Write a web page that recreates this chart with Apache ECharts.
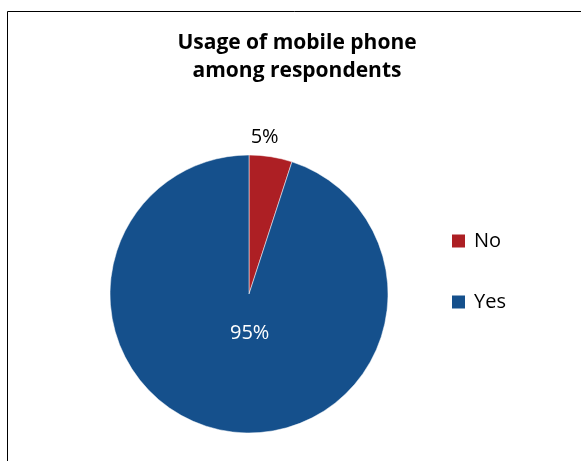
<!DOCTYPE html>
<html>
<head>
<meta charset="utf-8">
<script src="https://cdn.jsdelivr.net/npm/echarts@6/dist/echarts.min.js"></script>
<style>
  html, body { margin: 0; padding: 0; background: #fff; }
  #chart { width: 581px; height: 461px; }
</style>
</head>
<body>
<div id="chart"></div>
<script>
// Mobile phone usage share (percent)
const categories = ['No', 'Yes'];
const shares = [5, 95];
const colors = ['#AD1F24', '#15508C'];
const titleText = 'Usage of mobile phone\namong respondents';

const chart = echarts.init(document.getElementById('chart'), null, { renderer: 'canvas' });

const font = '"Open Sans", Lato, "Noto Sans", sans-serif';

chart.setOption({
  animation: false,
  backgroundColor: '#fff',
  title: {
    text: titleText,
    left: 292,
    textAlign: 'center',
    top: 24,
    textStyle: {
      fontFamily: font,
      fontWeight: 'bold',
      fontSize: 21,
      lineHeight: 28,
      color: '#000'
    }
  },
  legend: {
    orient: 'vertical',
    left: 445,
    top: 226,
    itemWidth: 15,
    itemHeight: 15,
    itemGap: 41,
    icon: 'rect',
    data: categories,
    textStyle: {
      fontFamily: font,
      fontSize: 20,
      color: '#000',
      padding: [0, 0, 0, 3]
    }
  },
  graphic: [
    { type: 'line', shape: { x1: 7.5, y1: 11.5, x2: 581, y2: 11.5 }, style: { stroke: '#000', lineWidth: 1 } },
    { type: 'line', shape: { x1: 7.5, y1: 11.5, x2: 7.5, y2: 461 }, style: { stroke: '#000', lineWidth: 1 } }
  ],
  series: [{
    type: 'pie',
    center: [249, 294],
    radius: [0, 139],
    startAngle: 90,
    clockwise: true,
    silent: true,
    itemStyle: { borderColor: '#fff', borderWidth: 0.5 },
    labelLine: { show: false, length: 6, length2: 0 },
    label: {
      fontFamily: font,
      fontSize: 20,
      formatter: '{d}%'
    },
    labelLayout: function (params) {
      if (params.dataIndex === 1) {
        return { dx: 12, dy: -32 };
      }
      return { dx: -26, dy: -13 };
    },
    data: categories.map((name, i) => ({
      name: name,
      value: shares[i],
      itemStyle: { color: colors[i] },
      label: i === 0
        ? { position: 'outside', color: '#000' }
        : { position: 'inside', color: '#fff' }
    }))
  }]
});
</script>
</body>
</html>
